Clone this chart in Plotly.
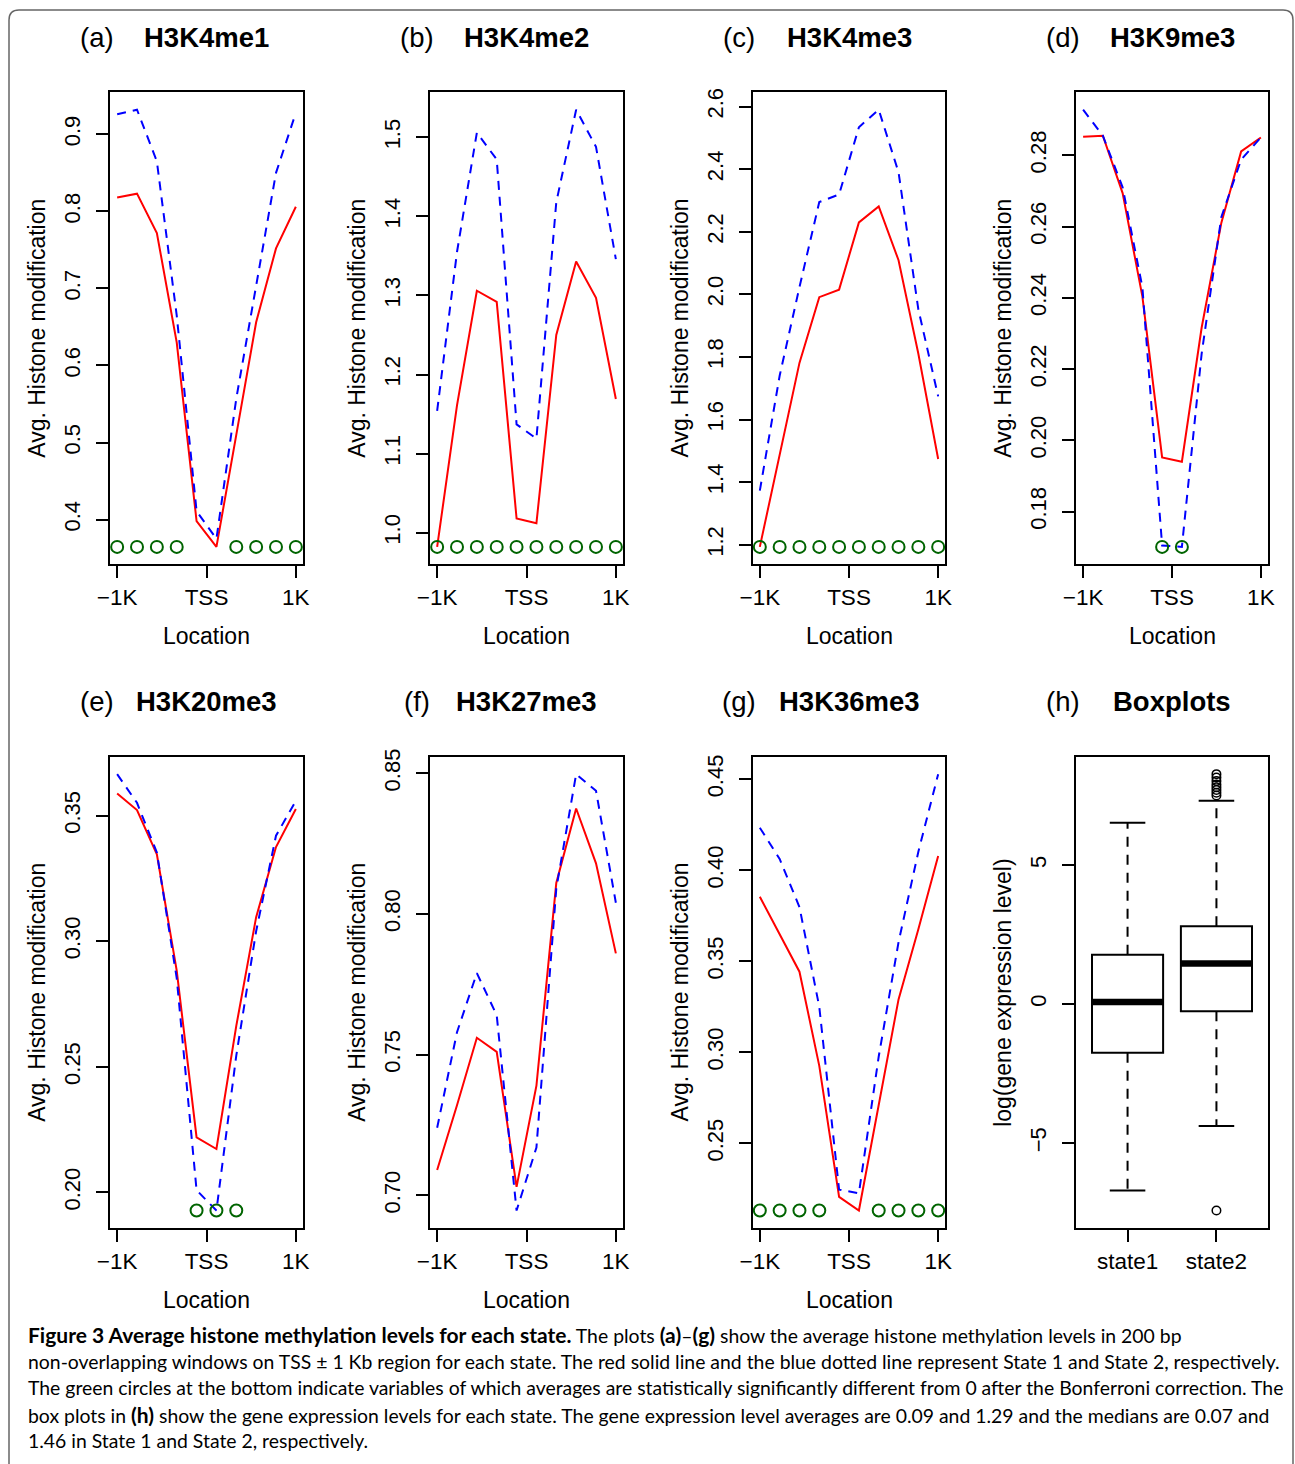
import plotly.graph_objects as go

W, H = 1295, 1464

# ---------------- data ----------------
windows = [1, 2, 3, 4, 5, 6, 7, 8, 9, 10]
x_tickvals = [1, 5.5, 10]
x_ticktext = ["\u22121K", "TSS", "1K"]

panel_letters = ["(a)", "(b)", "(c)", "(d)", "(e)", "(f)", "(g)", "(h)"]
panel_names = ["H3K4me1", "H3K4me2", "H3K4me3", "H3K9me3",
               "H3K20me3", "H3K27me3", "H3K36me3", "Boxplots"]

h3k4me1_state1 = [0.818, 0.823, 0.772, 0.630, 0.398, 0.3645, 0.510, 0.656, 0.752, 0.806]
h3k4me1_state2 = [0.926, 0.932, 0.865, 0.665, 0.411, 0.375, 0.557, 0.705, 0.850, 0.928]
h3k4me1_sig = [1, 2, 3, 4, 7, 8, 9, 10]

h3k4me2_state1 = [0.982, 1.161, 1.306, 1.292, 1.018, 1.012, 1.250, 1.343, 1.297, 1.169]
h3k4me2_state2 = [1.154, 1.355, 1.506, 1.472, 1.137, 1.119, 1.418, 1.535, 1.488, 1.346]
h3k4me2_sig = [1, 2, 3, 4, 5, 6, 7, 8, 9, 10]

h3k4me3_state1 = [1.193, 1.491, 1.781, 1.991, 2.015, 2.230, 2.281, 2.109, 1.810, 1.474]
h3k4me3_state2 = [1.373, 1.740, 2.023, 2.295, 2.319, 2.534, 2.590, 2.390, 1.952, 1.674]
h3k4me3_sig = [1, 2, 3, 4, 5, 6, 7, 8, 9, 10]

h3k9me3_state1 = [0.2852, 0.2855, 0.2694, 0.2404, 0.1952, 0.1940, 0.2316, 0.2611, 0.2811, 0.2850]
h3k9me3_state2 = [0.2928, 0.2855, 0.2710, 0.2430, 0.1705, 0.1701, 0.2243, 0.2627, 0.2788, 0.2850]
h3k9me3_sig = [5, 6]

h3k20me3_state1 = [0.3588, 0.3522, 0.3346, 0.2883, 0.2219, 0.2173, 0.2663, 0.3096, 0.3375, 0.3526]
h3k20me3_state2 = [0.3665, 0.3551, 0.3353, 0.2853, 0.2009, 0.1928, 0.2545, 0.3040, 0.3420, 0.3559]
h3k20me3_sig = [5, 6, 7]

h3k27me3_state1 = [0.709, 0.732, 0.756, 0.751, 0.703, 0.739, 0.811, 0.8375, 0.818, 0.786]
h3k27me3_state2 = [0.724, 0.758, 0.779, 0.764, 0.6946, 0.717, 0.809, 0.8497, 0.8438, 0.804]
h3k27me3_sig = []

h3k36me3_state1 = [0.3855, 0.3652, 0.3443, 0.2926, 0.2206, 0.2131, 0.2710, 0.3291, 0.3676, 0.4078]
h3k36me3_state2 = [0.4234, 0.4062, 0.3798, 0.3250, 0.2246, 0.2226, 0.2977, 0.3605, 0.4102, 0.4528]
h3k36me3_sig = [1, 2, 3, 4, 7, 8, 9, 10]

yticks_a = [0.4, 0.5, 0.6, 0.7, 0.8, 0.9]
yticks_b = [1.0, 1.1, 1.2, 1.3, 1.4, 1.5]
yticks_c = [1.2, 1.4, 1.6, 1.8, 2.0, 2.2, 2.4, 2.6]
yticks_d = [0.18, 0.20, 0.22, 0.24, 0.26, 0.28]
yticks_e = [0.20, 0.25, 0.30, 0.35]
yticks_f = [0.70, 0.75, 0.80, 0.85]
yticks_g = [0.25, 0.30, 0.35, 0.40, 0.45]
ytext_a = ["0.4", "0.5", "0.6", "0.7", "0.8", "0.9"]
ytext_b = ["1.0", "1.1", "1.2", "1.3", "1.4", "1.5"]
ytext_c = ["1.2", "1.4", "1.6", "1.8", "2.0", "2.2", "2.4", "2.6"]
ytext_d = ["0.18", "0.20", "0.22", "0.24", "0.26", "0.28"]
ytext_e = ["0.20", "0.25", "0.30", "0.35"]
ytext_f = ["0.70", "0.75", "0.80", "0.85"]
ytext_g = ["0.25", "0.30", "0.35", "0.40", "0.45"]

box_states = ["state1", "state2"]
box_pos = [1, 2]
box_q1 = [-1.75, -0.26]
box_median = [0.07, 1.46]
box_q3 = [1.77, 2.80]
box_lower = [-6.71, -4.39]
box_upper = [6.52, 7.31]
outlier_x = [2, 2, 2, 2, 2, 2, 2, 2, 2]
outlier_y = [8.27, 8.15, 8.02, 7.90, 7.80, 7.70, 7.60, 7.50, -7.43]
box_yticks = [-5, 0, 5]
box_ytext = ["\u22125", "0", "5"]

# ---------------- geometry (pixels) ----------------
col_x = [(110, 303), (430, 623), (752.7, 945.3), (1076, 1268)]
row_y = [(92.2, 564.4), (756.7, 1228)]
title_y = [38, 701]
loc_y = [636, 1300]

def px(x):
    return x / W

def py(y):
    return 1 - y / H

FONT = "Liberation Sans, Arial, sans-serif"

line_panels = [
    (h3k4me1_state1, h3k4me1_state2, h3k4me1_sig, yticks_a, ytext_a),
    (h3k4me2_state1, h3k4me2_state2, h3k4me2_sig, yticks_b, ytext_b),
    (h3k4me3_state1, h3k4me3_state2, h3k4me3_sig, yticks_c, ytext_c),
    (h3k9me3_state1, h3k9me3_state2, h3k9me3_sig, yticks_d, ytext_d),
    (h3k20me3_state1, h3k20me3_state2, h3k20me3_sig, yticks_e, ytext_e),
    (h3k27me3_state1, h3k27me3_state2, h3k27me3_sig, yticks_f, ytext_f),
    (h3k36me3_state1, h3k36me3_state2, h3k36me3_sig, yticks_g, ytext_g),
]

fig = go.Figure()
layout = dict(
    width=W, height=H,
    margin=dict(l=0, r=0, t=0, b=0, pad=0, autoexpand=False),
    paper_bgcolor="white", plot_bgcolor="white", showlegend=False,
    font=dict(family=FONT, color="black"),
)
annotations = []

def axis_common():
    return dict(showline=True, mirror=True, linecolor="black", linewidth=2,
                ticks="outside", ticklen=12, tickwidth=2, tickcolor="black",
                showgrid=False, zeroline=False, fixedrange=True, automargin=False)

def r_range(vals):
    lo, hi = min(vals), max(vals)
    d = (hi - lo) * 0.04
    return [lo - d, hi + d]

for i in range(8):
    r, c = divmod(i, 4)
    x0, x1 = col_x[c]
    y0, y1 = row_y[r]
    xa = "x" if i == 0 else f"x{i+1}"
    ya = "y" if i == 0 else f"y{i+1}"
    xkey = "xaxis" if i == 0 else f"xaxis{i+1}"
    ykey = "yaxis" if i == 0 else f"yaxis{i+1}"

    xax = axis_common()
    yax = axis_common()
    xax.update(domain=[px(x0), px(x1)], anchor=ya,
               tickfont=dict(size=22.5, family=FONT))
    yax.update(domain=[py(y1), py(y0)], anchor=xa, tickangle=-90,
               ticklabelstandoff=7,
               tickfont=dict(size=22, family=FONT))

    if i < 7:
        s1, s2, sig, yt, ytx = line_panels[i]
        allv = s1 + s2
        ymin = min(allv)
        fig.add_trace(go.Scatter(x=windows, y=s1, mode="lines",
                                 line=dict(color="#FF0000", width=2),
                                 xaxis=xa, yaxis=ya))
        fig.add_trace(go.Scatter(x=windows, y=s2, mode="lines",
                                 line=dict(color="#0000FF", width=2, dash="9px,7px"),
                                 xaxis=xa, yaxis=ya))
        if sig:
            fig.add_trace(go.Scatter(x=[windows[k - 1] for k in sig],
                                     y=[ymin] * len(sig), mode="markers",
                                     marker=dict(symbol="circle-open", size=12,
                                                 color="#006400",
                                                 line=dict(width=2, color="#006400")),
                                     xaxis=xa, yaxis=ya, cliponaxis=False))
        xax.update(range=[0.64, 10.36], tickvals=x_tickvals, ticktext=x_ticktext)
        yax.update(range=r_range(allv), tickvals=yt, ticktext=ytx)
        ytitle = "Avg. Histone modification"
        annotations.append(dict(text="Location", x=px((x0 + x1) / 2), y=py(loc_y[r]),
                                xref="paper", yref="paper", showarrow=False,
                                xanchor="center", yanchor="middle",
                                font=dict(size=23, family=FONT)))
    else:
        hw = 0.4
        fig.add_trace(go.Box(x=box_pos, q1=box_q1, median=box_median, q3=box_q3,
                             lowerfence=box_q1, upperfence=box_q3,
                             width=2 * hw, whiskerwidth=0, boxpoints=False,
                             fillcolor="white", line=dict(color="black", width=2),
                             xaxis=xa, yaxis=ya, hoverinfo="skip"))
        for k in range(2):
            cx = box_pos[k]
            fig.add_trace(go.Scatter(x=[cx - hw, cx + hw], y=[box_median[k]] * 2,
                                     mode="lines", line=dict(color="black", width=6.5),
                                     xaxis=xa, yaxis=ya))
            for a, b in ((box_q3[k], box_upper[k]), (box_q1[k], box_lower[k])):
                fig.add_trace(go.Scatter(x=[cx, cx], y=[a, b], mode="lines",
                                         line=dict(color="black", width=2, dash="10px,8px"),
                                         xaxis=xa, yaxis=ya))
            for v in (box_upper[k], box_lower[k]):
                fig.add_trace(go.Scatter(x=[cx - hw / 2, cx + hw / 2], y=[v, v],
                                         mode="lines", line=dict(color="black", width=2),
                                         xaxis=xa, yaxis=ya))
        fig.add_trace(go.Scatter(x=outlier_x, y=outlier_y, mode="markers",
                                 marker=dict(symbol="circle-open", size=8.5, color="black",
                                             line=dict(width=1.5, color="black")),
                                 xaxis=xa, yaxis=ya))
        allv = box_lower + box_upper + outlier_y
        xax.update(range=[0.42, 2.58], tickvals=box_pos, ticktext=box_states)
        yax.update(range=r_range(allv), tickvals=box_yticks, ticktext=box_ytext)
        ytitle = "log(gene expression level)"

    layout[xkey] = xax
    layout[ykey] = yax

    annotations.append(dict(text=ytitle, x=px(x0 - 72.5), y=py((y0 + y1) / 2),
                            xref="paper", yref="paper", showarrow=False, textangle=-90,
                            xanchor="center", yanchor="middle",
                            font=dict(size=23, family=FONT)))
    annotations.append(dict(text="<b>" + panel_names[i] + "</b>",
                            x=px((x0 + x1) / 2), y=py(title_y[r]),
                            xref="paper", yref="paper", showarrow=False,
                            xanchor="center", yanchor="middle",
                            font=dict(size=27.5, family=FONT)))
    annotations.append(dict(text=panel_letters[i], x=px(x0 - 13.5), y=py(title_y[r]),
                            xref="paper", yref="paper", showarrow=False,
                            xanchor="center", yanchor="middle",
                            font=dict(size=27.5, family=FONT)))

def B(t):
    return '<b><span style="font-size:21px">' + t + '</span></b>'

caption_lines = [
    B("Figure 3 Average histone methylation levels for each state.") + " The plots " + B("(a)") + "\u2013" + B("(g)") + " show the average histone methylation levels in 200 bp",
    "non-overlapping windows on TSS \u00b1 1 Kb region for each state. The red solid line and the blue dotted line represent State 1 and State 2, respectively.",
    "The green circles at the bottom indicate variables of which averages are statistically significantly different from 0 after the Bonferroni correction. The",
    "box plots in " + B("(h)") + " show the gene expression levels for each state. The gene expression level averages are 0.09 and 1.29 and the medians are 0.07 and",
    "1.46 in State 1 and State 2, respectively.",
]
caption_y = [1334, 1361, 1387, 1414, 1440]
for t, yy in zip(caption_lines, caption_y):
    annotations.append(dict(text=t, x=px(26), y=py(yy), xref="paper", yref="paper",
                            showarrow=False, xanchor="left", yanchor="middle",
                            font=dict(size=19.4, family="Lato, sans-serif", color="black")))

layout["annotations"] = annotations

# rounded frame, open at the bottom
fx0, fx1, fy0, fyb, rad = 9, 1293, 10, 1480, 10
path = (f"M {px(fx0)},{py(fyb)} L {px(fx0)},{py(fy0 + rad)} "
        f"Q {px(fx0)},{py(fy0)} {px(fx0 + rad)},{py(fy0)} "
        f"L {px(fx1 - rad)},{py(fy0)} Q {px(fx1)},{py(fy0)} {px(fx1)},{py(fy0 + rad)} "
        f"L {px(fx1)},{py(fyb)}")
layout["shapes"] = [dict(type="path", path=path, xref="paper", yref="paper",
                         line=dict(color="#666666", width=1.5))]

fig.update_layout(**layout)
fig.write_html("out.html", config={"responsive": False},
               post_script="document.body.style.margin='0';document.body.style.padding='0';document.body.style.overflow='hidden';")
